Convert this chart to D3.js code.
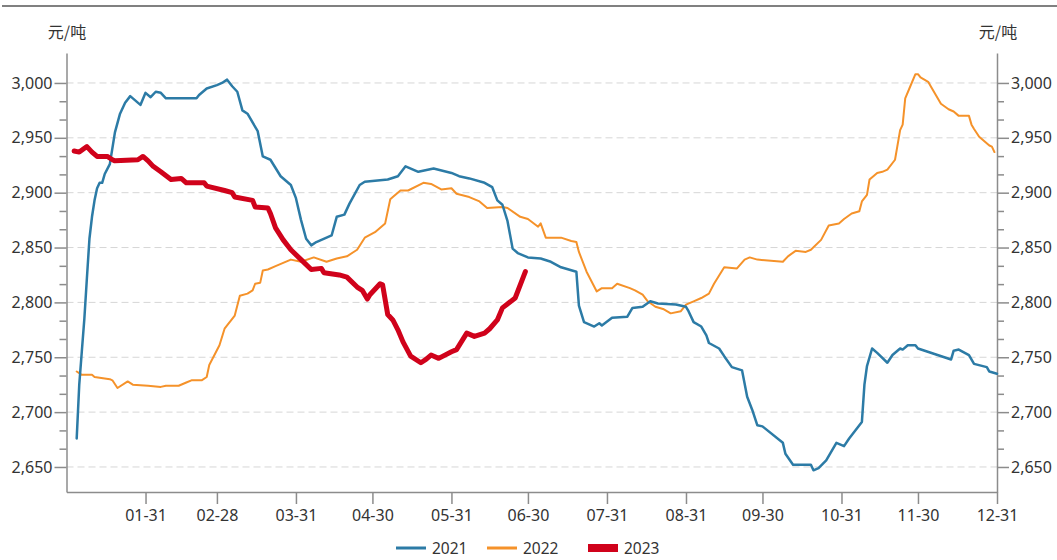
<!DOCTYPE html>
<html><head><meta charset="utf-8">
<script src="https://cdn.jsdelivr.net/npm/d3@7"></script>
<style>
html,body{margin:0;padding:0;background:#fff;}
svg{display:block;}
text{font-family:"Noto Sans","Noto Sans CJK SC",sans-serif;fill:#333;}
</style></head><body>
<svg id="c" width="1057" height="560"></svg>
<script>
const unit = "元/吨";
const seriesNames = ["2021","2022","2023"];
const xTickLabels = ["01-31","02-28","03-31","04-30","05-31","06-30","07-31","08-31","09-30","10-31","11-30","12-31"];
const yTicks = [2650,2700,2750,2800,2850,2900,2950,3000];

const s2021 = [["01-04",2676],["01-05",2725],["01-06",2755],["01-07",2785],["01-08",2822],["01-09",2858],["01-10",2878],["01-11",2893],["01-12",2904],["01-13",2909],["01-14",2909],["01-15",2917],["01-17",2926],["01-19",2955],["01-21",2972],["01-23",2982],["01-25",2988],["01-29",2980],["01-31",2991],["02-02",2987],["02-04",2992],["02-06",2991],["02-08",2986],["02-20",2986],["02-21",2989],["02-24",2995],["02-28",2998],["03-02",3000],["03-04",3003],["03-06",2997],["03-08",2992],["03-10",2975],["03-12",2972],["03-16",2956],["03-18",2933],["03-21",2930],["03-25",2915],["03-29",2907],["03-31",2895],["04-02",2875],["04-04",2858],["04-06",2852],["04-08",2855],["04-14",2861],["04-16",2878],["04-19",2880],["04-21",2890],["04-25",2907],["04-27",2910],["05-06",2912],["05-10",2915],["05-13",2924],["05-18",2919],["05-24",2922],["05-31",2918],["06-03",2915],["06-07",2913],["06-13",2909],["06-16",2905],["06-18",2893],["06-20",2889],["06-22",2874],["06-24",2849],["06-26",2845],["06-30",2841],["07-05",2840],["07-09",2837],["07-13",2832],["07-19",2828],["07-20",2797],["07-22",2782],["07-26",2778],["07-28",2781],["07-29",2779],["08-02",2786],["08-08",2787],["08-10",2795],["08-14",2796],["08-17",2801],["08-20",2799],["08-27",2798],["08-31",2796],["09-01",2792],["09-03",2782],["09-06",2778],["09-08",2770],["09-09",2763],["09-13",2758],["09-15",2751],["09-18",2741],["09-22",2738],["09-24",2714],["09-26",2702],["09-28",2688],["09-30",2687],["10-08",2672],["10-09",2662],["10-12",2652],["10-19",2652],["10-20",2647],["10-22",2649],["10-25",2656],["10-29",2672],["11-01",2669],["11-03",2676],["11-08",2691],["11-09",2725],["11-10",2742],["11-12",2758],["11-14",2754],["11-18",2745],["11-20",2752],["11-23",2758],["11-24",2757],["11-26",2761],["11-29",2761],["11-30",2758],["12-13",2748],["12-14",2756],["12-16",2757],["12-20",2752],["12-22",2744],["12-27",2741],["12-28",2737],["12-31",2735]];

const s2022 = [["01-04",2737],["01-06",2734],["01-10",2734],["01-11",2732],["01-17",2730],["01-18",2729],["01-20",2722],["01-24",2728],["01-26",2725],["02-01",2724],["02-06",2723],["02-08",2724],["02-13",2724],["02-16",2727],["02-18",2729],["02-22",2729],["02-24",2732],["02-25",2743],["03-01",2761],["03-03",2776],["03-07",2788],["03-09",2806],["03-12",2808],["03-14",2811],["03-15",2817],["03-17",2818],["03-18",2829],["03-20",2830],["03-23",2833],["03-29",2839],["04-02",2837],["04-07",2841],["04-12",2837],["04-16",2840],["04-20",2842],["04-24",2848],["04-27",2859],["05-01",2864],["05-05",2872],["05-07",2894],["05-08",2896],["05-11",2902],["05-14",2902],["05-20",2909],["05-23",2908],["05-27",2903],["05-31",2904],["06-02",2899],["06-07",2896],["06-11",2892],["06-14",2886],["06-20",2887],["06-22",2886],["06-27",2878],["06-30",2876],["07-04",2869],["07-05",2872],["07-07",2859],["07-13",2859],["07-17",2856],["07-19",2855],["07-20",2846],["07-23",2828],["07-27",2810],["07-29",2813],["08-02",2813],["08-04",2817],["08-09",2813],["08-11",2811],["08-14",2807],["08-16",2801],["08-19",2796],["08-22",2794],["08-25",2790],["08-29",2792],["08-31",2798],["09-03",2801],["09-06",2804],["09-09",2808],["09-11",2817],["09-15",2832],["09-20",2831],["09-23",2839],["09-25",2841],["09-28",2839],["10-08",2837],["10-10",2842],["10-13",2847],["10-17",2846],["10-19",2848],["10-23",2857],["10-26",2870],["10-30",2872],["11-01",2876],["11-04",2881],["11-07",2883],["11-08",2892],["11-10",2898],["11-11",2912],["11-14",2918],["11-16",2919],["11-18",2921],["11-21",2930],["11-23",2957],["11-24",2962],["11-25",2986],["11-27",2997],["11-29",3008],["11-30",3008],["12-01",3005],["12-04",3001],["12-05",2997],["12-07",2989],["12-09",2981],["12-12",2976],["12-14",2974],["12-16",2970],["12-20",2970],["12-21",2962],["12-22",2958],["12-24",2951],["12-28",2943],["12-29",2942],["12-30",2937]];

const s2023 = [["01-03",2938],["01-05",2937],["01-08",2942],["01-10",2937],["01-12",2933],["01-16",2933],["01-18",2930],["01-19",2929],["01-28",2930],["01-30",2933],["02-01",2929],["02-03",2924],["02-06",2919],["02-10",2912],["02-14",2913],["02-16",2909],["02-23",2909],["02-24",2906],["03-03",2902],["03-06",2900],["03-07",2896],["03-14",2893],["03-15",2887],["03-20",2886],["03-21",2881],["03-23",2868],["03-26",2857],["03-29",2848],["04-02",2839],["04-06",2830],["04-10",2831],["04-11",2827],["04-17",2825],["04-20",2823],["04-24",2814],["04-26",2811],["04-28",2803],["04-29",2807],["05-03",2817],["05-04",2816],["05-06",2789],["05-08",2784],["05-10",2775],["05-12",2764],["05-15",2751],["05-19",2745],["05-21",2748],["05-23",2752],["05-26",2749],["05-31",2755],["06-02",2757],["06-06",2772],["06-09",2769],["06-13",2772],["06-15",2776],["06-18",2784],["06-20",2795],["06-25",2804],["06-29",2828]];

const colors = {"2021":"#2c7ba6","2022":"#f5922a","2023":"#d0021b"};
const widths = {"2021":2.5,"2022":2,"2023":5};

const svg = d3.select("#c");
const parse = s => { const [m,d] = s.split("-").map(Number); return new Date(2021, m-1, d); };

const mLeft = 66.5, mRight = 997, mTop = 53, mBottom = 492;
const x = d3.scaleTime().domain([new Date(2021,0,0), new Date(2021,11,31)]).range([mLeft, mRight]);
const y = d3.scaleLinear().domain([2627.2, 3027.3]).range([mBottom, mTop]);

svg.append("line").attr("x1",2).attr("x2",1057).attr("y1",6).attr("y2",6)
  .attr("stroke","#808080").attr("stroke-width",2);

svg.append("g").selectAll("line").data(yTicks).join("line")
  .attr("x1",mLeft).attr("x2",mRight).attr("y1",d=>y(d)).attr("y2",d=>y(d))
  .attr("stroke","#d6d6d6").attr("stroke-width",1).attr("stroke-dasharray","7,4");

const minor = [];
for (let i=0;i<yTicks.length-1;i++){ minor.push(yTicks[i]+50/3, yTicks[i]+100/3); }

function styleAxis(g){
  g.select(".domain").attr("stroke","#8c8c8c").attr("stroke-width",1.5);
  g.selectAll(".tick line").attr("stroke","#8c8c8c").attr("stroke-width",1.5);
  g.selectAll(".tick text").style("font-size","16px").attr("fill","#333");
}
const fmt = d3.format(",");
const gl = svg.append("g").attr("transform",`translate(${mLeft},0)`)
  .call(d3.axisLeft(y).tickValues(yTicks).tickFormat(fmt).tickSize(12).tickPadding(2).tickSizeOuter(0));
styleAxis(gl);
svg.append("g").attr("transform",`translate(${mLeft},0)`)
  .call(d3.axisLeft(y).tickValues(minor).tickFormat("").tickSize(7).tickSizeOuter(0))
  .call(g=>{g.select(".domain").remove(); g.selectAll("line").attr("stroke","#8c8c8c").attr("stroke-width",1.5);});
const gr = svg.append("g").attr("transform",`translate(${mRight},0)`)
  .call(d3.axisRight(y).tickValues(yTicks).tickFormat(fmt).tickSize(12).tickPadding(2).tickSizeOuter(0));
styleAxis(gr);
svg.append("g").attr("transform",`translate(${mRight},0)`)
  .call(d3.axisRight(y).tickValues(minor).tickFormat("").tickSize(7).tickSizeOuter(0))
  .call(g=>{g.select(".domain").remove(); g.selectAll("line").attr("stroke","#8c8c8c").attr("stroke-width",1.5);});
const gb = svg.append("g").attr("transform",`translate(0,${mBottom})`)
  .call(d3.axisBottom(x).tickValues(xTickLabels.map(parse)).tickFormat(d3.timeFormat("%m-%d")).tickSize(12).tickPadding(6).tickSizeOuter(0));
styleAxis(gb);

svg.append("text").attr("x",67).attr("y",38).attr("text-anchor","middle")
  .style("font-size","16px").style("font-family","'Noto Sans CJK SC',sans-serif").text(unit);
svg.append("text").attr("x",998).attr("y",38).attr("text-anchor","middle")
  .style("font-size","16px").style("font-family","'Noto Sans CJK SC',sans-serif").text(unit);

const line = d3.line().x(d=>x(parse(d[0]))).y(d=>y(d[1]));
const data = {"2021":s2021,"2022":s2022,"2023":s2023};
["2022","2021","2023"].forEach(k=>{
  svg.append("path").datum(data[k]).attr("d",line).attr("fill","none")
    .attr("stroke",colors[k]).attr("stroke-width",widths[k])
    .attr("stroke-linejoin","round").attr("stroke-linecap","round");
});

const lx = [396, 487, 588];
const ly = 548;
seriesNames.forEach((k,i)=>{
  const g = svg.append("g").attr("transform",`translate(${lx[i]},${ly})`);
  if (k==="2023") g.append("rect").attr("x",0).attr("y",-4).attr("width",30).attr("height",8).attr("fill",colors[k]);
  else g.append("line").attr("x1",0).attr("x2",30).attr("y1",0).attr("y2",0).attr("stroke",colors[k]).attr("stroke-width",3);
  g.append("text").attr("x",36).attr("y",0).attr("dominant-baseline","central").style("font-size","15.5px").text(k);
});
</script></body></html>
